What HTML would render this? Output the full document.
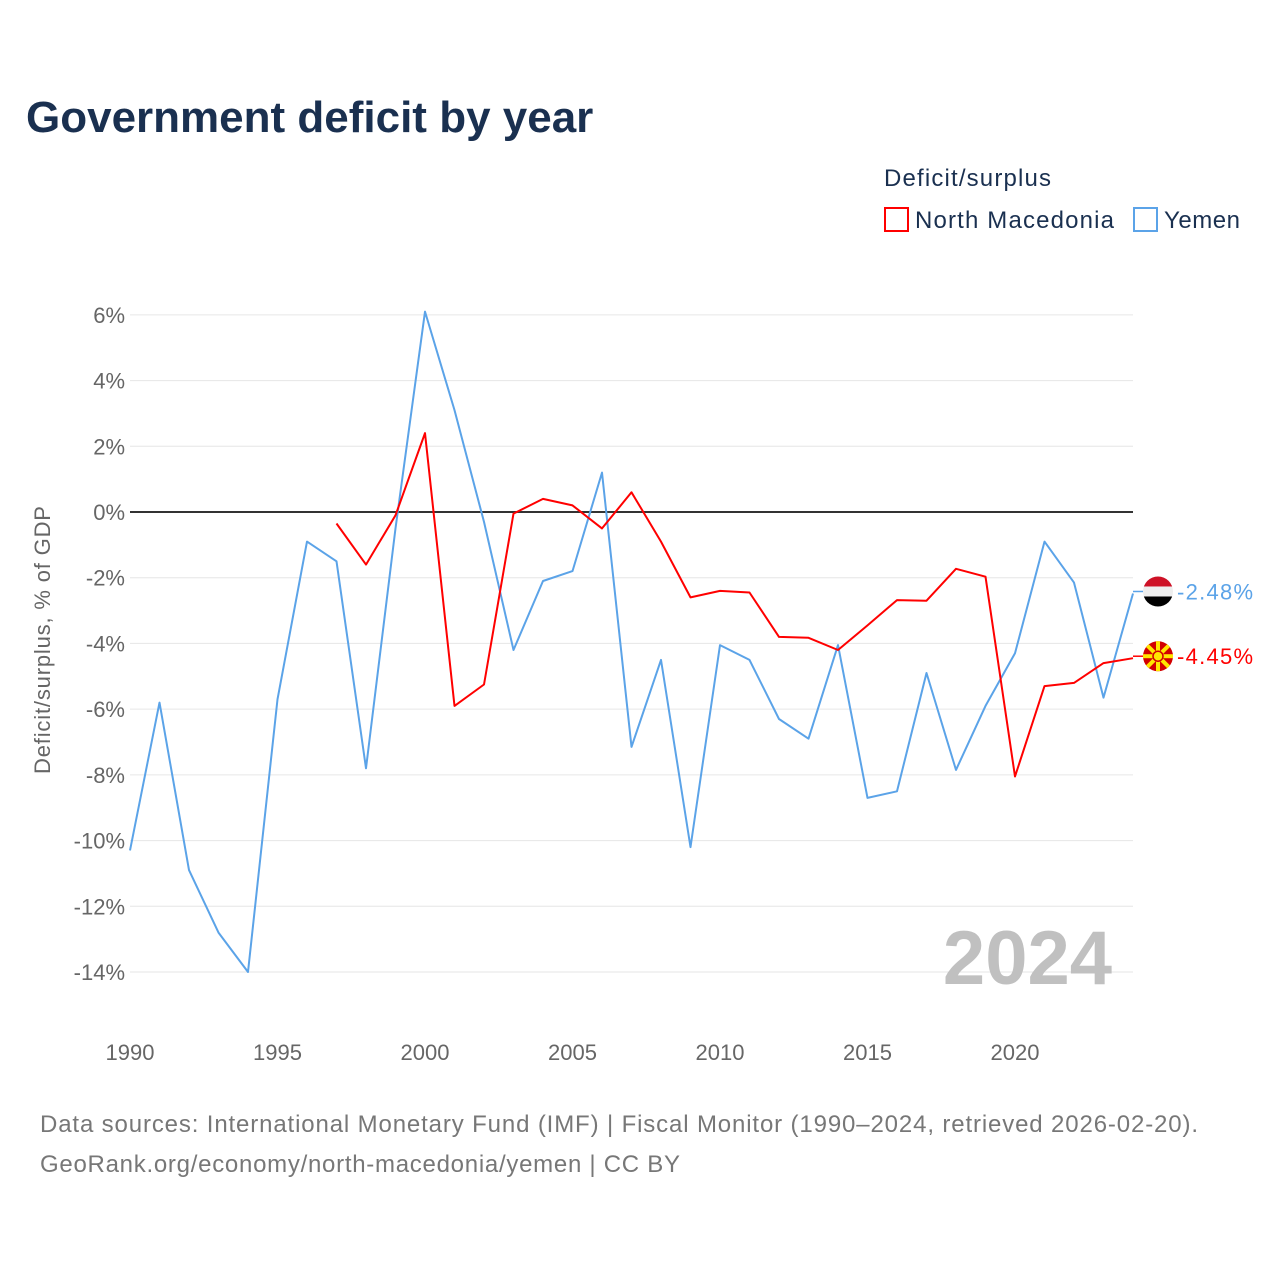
<!DOCTYPE html>
<html><head><meta charset="utf-8"><style>
body{margin:0;background:#fff;font-family:"Liberation Sans",sans-serif;}
</style></head><body>
<svg id="c" width="1280" height="1280" xmlns="http://www.w3.org/2000/svg">
<text x="26" y="132" font-size="44" font-weight="bold" fill="#1a3050">Government deficit by year</text>
<text x="884" y="186" font-size="24" fill="#1a3050" textLength="167">Deficit/surplus</text>
<g><rect x="885" y="208" width="23" height="23" fill="none" stroke="#f00" stroke-width="2"/><text x="915" y="228" font-size="24" fill="#1a3050" textLength="199">North Macedonia</text></g>
<g><rect x="1134" y="208" width="23" height="23" fill="none" stroke="#5ba3e8" stroke-width="2"/><text x="1164" y="228" font-size="24" fill="#1a3050" textLength="76">Yemen</text></g>
<text transform="translate(50,640) rotate(-90)" text-anchor="middle" font-size="22" fill="#666" textLength="268">Deficit/surplus, % of GDP</text>
<g id="grid"></g><g id="ticks"></g>
<text x="1112" y="984" text-anchor="end" font-size="76" font-weight="bold" fill="#c0c0c0">2024</text>
<g id="series"></g>
<text x="40" y="1132" font-size="24" fill="#777" textLength="1158">Data sources: International Monetary Fund (IMF) | Fiscal Monitor (1990–2024, retrieved 2026-02-20).</text>
<text x="40" y="1172" font-size="24" fill="#777" textLength="640">GeoRank.org/economy/north-macedonia/yemen | CC BY</text>
</svg>
<script>
const years=[];for(let y=1990;y<=2024;y++)years.push(y);
const yemen=[-10.3,-5.8,-10.9,-12.8,-14.0,-5.7,-0.9,-1.5,-7.8,-0.5,6.1,3.1,-0.3,-4.2,-2.1,-1.8,1.2,-7.15,-4.5,-10.2,-4.05,-4.5,-6.3,-6.9,-4.05,-8.7,-8.5,-4.9,-7.85,-5.9,-4.3,-0.9,-2.15,-5.65,-2.48];
const macedonia=[null,null,null,null,null,null,null,-0.35,-1.6,-0.1,2.4,-5.9,-5.25,-0.05,0.4,0.2,-0.5,0.6,-0.9,-2.6,-2.4,-2.45,-3.8,-3.83,-4.2,-3.45,-2.68,-2.7,-1.73,-1.97,-8.05,-5.3,-5.2,-4.6,-4.45];
const yTicks=[6,4,2,0,-2,-4,-6,-8,-10,-12,-14];
const xTicks=[1990,1995,2000,2005,2010,2015,2020];
const X=y=>130+(y-1990)*(1003/34);
const Y=v=>512-v*32.857;
const NS="http://www.w3.org/2000/svg";
function mk(t,a,p){const e=document.createElementNS(NS,t);for(const k in a)e.setAttribute(k,a[k]);p.appendChild(e);return e;}
const grid=document.getElementById('grid'),ticks=document.getElementById('ticks'),ser=document.getElementById('series');
yTicks.forEach(v=>{
 const l=mk('line',{x1:130,x2:1133,y1:Y(v),y2:Y(v),stroke:v===0?'#333':'#e6e6e6','stroke-width':v===0?2:1},grid);
 
 
 const t=mk('text',{x:125,y:Y(v)+8,'text-anchor':'end','font-size':22,fill:'#666'},ticks);
 t.textContent=v+'%';
 
 
});
xTicks.forEach(v=>{
 const t=mk('text',{x:X(v),y:1060,'text-anchor':'middle','font-size':22,fill:'#666'},ticks);
 t.textContent=v;
 
 
});
function line(vals,col,name){
 let d='';vals.forEach((v,i)=>{if(v===null)return;d+=(d?'L':'M')+X(years[i]).toFixed(1)+','+Y(v).toFixed(1);});
 const p=mk('path',{d:d,fill:'none',stroke:col,'stroke-width':2,'stroke-linejoin':'round'},ser);
 
 
}
line(yemen,'#5ba3e8','yemen-line');
line(macedonia,'#f00','north-macedonia-line');
function endLabel(v,col,name,flag){
 const x=X(2024),y=Y(v)-2;
 mk('line',{x1:x,x2:x+10,y1:y,y2:y,stroke:col,'stroke-width':1.5},ser);
 const g=mk('g',{},ser);
 
 
 const cx=x+25;
 if(flag==='ye'){
  mk('clipPath',{id:'cp1'},g).appendChild(document.createElementNS(NS,'circle'));
  const c=g.querySelector('circle');c.setAttribute('cx',cx);c.setAttribute('cy',y);c.setAttribute('r',15);
  mk('rect',{x:cx-15,y:y-15,width:30,height:10,fill:'#ce1126','clip-path':'url(#cp1)'},g);
  mk('rect',{x:cx-15,y:y-5,width:30,height:10,fill:'#eee','clip-path':'url(#cp1)'},g);
  mk('rect',{x:cx-15,y:y+5,width:30,height:10,fill:'#000','clip-path':'url(#cp1)'},g);
 }else{
  mk('circle',{cx:cx,cy:y,r:15,fill:'#d20000'},g);
  for(let a=0;a<8;a++){const an=a*Math.PI/4;
   mk('line',{x1:cx,y1:y,x2:cx+15*Math.cos(an),y2:y+15*Math.sin(an),stroke:'#ffe600','stroke-width':4},g);}
  mk('circle',{cx:cx,cy:y,r:5,fill:'#ffe600',stroke:'#d20000','stroke-width':1.5},g);
 }
 const t=mk('text',{x:x+44,y:y+8,'font-size':22,fill:col,textLength:76},ser);
 t.textContent=v.toFixed(2)+'%';
 
 
}
endLabel(yemen[yemen.length-1],'#5ba3e8','yemen','ye');
endLabel(macedonia[macedonia.length-1],'#f00','north-macedonia','mk');
</script>
</body></html>
